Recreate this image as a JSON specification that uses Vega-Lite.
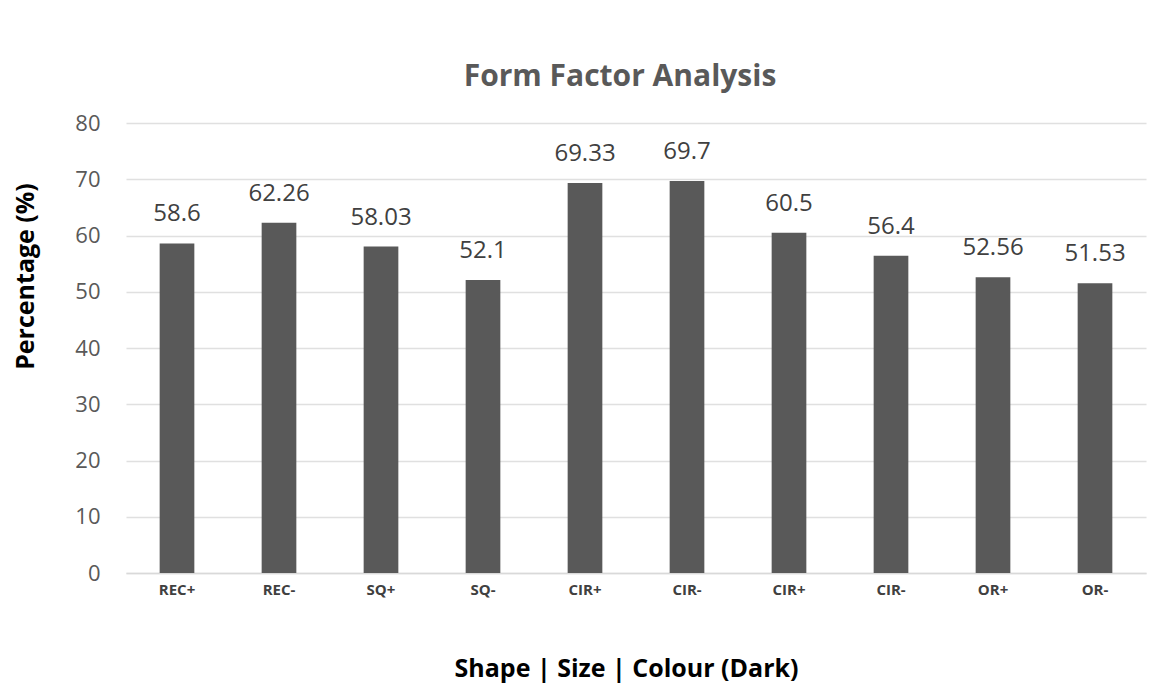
{
  "$schema": "https://vega.github.io/schema/vega-lite/v6.json",
  "autosize": "none",
  "width": 1020,
  "height": 450,
  "padding": {"left": 126, "top": 123, "right": 28, "bottom": 112},
  "background": "white",
  "title": {
    "text": "Form Factor Analysis",
    "font": "Open Sans",
    "fontSize": 30,
    "fontWeight": "bold",
    "color": "#595959",
    "anchor": "middle",
    "offset": 20,
    "dx": -16
  },
  "data": {
    "values": [
      {"id": "1", "label": "REC+", "value": 58.6, "text": "58.6"},
      {"id": "2", "label": "REC-", "value": 62.26, "text": "62.26"},
      {"id": "3", "label": "SQ+", "value": 58.03, "text": "58.03"},
      {"id": "4", "label": "SQ-", "value": 52.1, "text": "52.1"},
      {"id": "5", "label": "CIR+", "value": 69.33, "text": "69.33"},
      {"id": "6", "label": "CIR-", "value": 69.7, "text": "69.7"},
      {"id": "7", "label": "CIR+", "value": 60.5, "text": "60.5"},
      {"id": "8", "label": "CIR-", "value": 56.4, "text": "56.4"},
      {"id": "9", "label": "OR+", "value": 52.56, "text": "52.56"},
      {"id": "10", "label": "OR-", "value": 51.53, "text": "51.53"}
    ]
  },
  "encoding": {
    "x": {
      "field": "id",
      "type": "nominal",
      "sort": null,
      "scale": {"paddingInner": 0.66, "paddingOuter": 0.33},
      "axis": {
        "title": "Shape | Size | Colour (Dark)",
        "titleFont": "Open Sans",
        "titleFontSize": 25,
        "titleFontWeight": "bold",
        "titleColor": "#000000",
        "titleX": 500,
        "titleY": 95,
        "titleBaseline": "middle",
        "titleAlign": "center",
        "labelExpr": "['REC+','REC-','SQ+','SQ-','CIR+','CIR-','CIR+','CIR-','OR+','OR-'][toNumber(datum.value)-1]",
        "labelAngle": 0,
        "labelFont": "Open Sans",
        "labelFontSize": 15,
        "labelFontWeight": "bold",
        "labelColor": "#404040",
        "labelPadding": 9,
        "ticks": false,
        "domain": true,
        "domainColor": "#d9d9d9",
        "domainWidth": 1.5,
        "grid": false
      }
    },
    "y": {
      "field": "value",
      "type": "quantitative",
      "scale": {"domain": [0, 80]},
      "axis": {
        "title": "Percentage (%)",
        "titleFont": "Open Sans",
        "titleFontSize": 25,
        "titleFontWeight": "bold",
        "titleColor": "#000000",
        "titleX": -101,
        "titleY": 153,
        "titleAngle": -90,
        "titleAlign": "center",
        "titleBaseline": "middle",
        "values": [0, 10, 20, 30, 40, 50, 60, 70, 80],
        "labelFont": "Open Sans",
        "labelFontSize": 22,
        "labelColor": "#595959",
        "labelPadding": 26,
        "ticks": false,
        "domain": false,
        "grid": true,
        "gridColor": "#e0e0e0",
        "gridWidth": 1.5
      }
    }
  },
  "layer": [
    {"mark": {"type": "bar", "color": "#595959"}},
    {
      "mark": {
        "type": "text",
        "baseline": "bottom",
        "dy": -17,
        "font": "Open Sans",
        "fontSize": 24,
        "color": "#404040"
      },
      "encoding": {"text": {"field": "text"}}
    }
  ],
  "config": {"view": {"stroke": null}}
}
